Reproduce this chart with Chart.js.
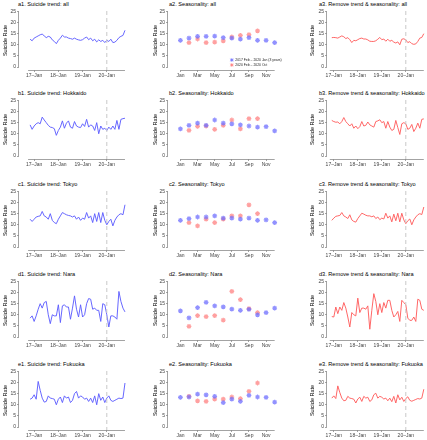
<!DOCTYPE html>
<html>
<head>
<meta charset="utf-8">
<script src="https://cdn.jsdelivr.net/npm/chart.js@4.4.1/dist/chart.umd.min.js"></script>
<style>
  body { margin: 0; background: #fff; }
  #fig { position: relative; width: 427px; height: 440px; font-family: "Liberation Sans", Arial, sans-serif; overflow: hidden; }
  .panel { position: absolute; }
  .ptitle { position: absolute; font-size: 5.6px; line-height: 8px; white-space: nowrap; color: #000; }
</style>
</head>
<body>
<div id="fig"></div>
<script>
// month index: 0 = Jan 2017
const trendStart = -2;   // first point of the trend series (Nov 2016)
const residStart = -1;   // first point of the detrended series (Dec 2016)
const covidBreak = 36;   // dashed line, early 2020

const yearTicks = [0, 12, 24, 36];
const yearLabels = ['17–Jan', '18–Jan', '19–Jan', '20–Jan'];
const monthTicks = [1, 3, 5, 7, 9, 11];
const monthLabels = ['Jan', 'Mar', 'May', 'Jul', 'Sep', 'Nov'];
const rateTicks = [0, 5, 10, 15, 20, 25];

const baseMonths = [1, 2, 3, 4, 5, 6, 7, 8, 9, 10, 11, 12];
const covidMonths = [2, 3, 4, 5, 6, 7, 8, 9, 10];
const baseLabel = '2017 Feb – 2020 Jan (3 years)';
const covidLabel = '2020 Feb – 2020 Oct';

const regions = ['all', 'Hokkaido', 'Tokyo', 'Nara', 'Fukuoka'];
const letters = ['a', 'b', 'c', 'd', 'e'];

// ---- suicide trend (monthly rates) ----
const trendAll = [12.5, 11.8, 13, 13.5, 14, 14.5, 14.8, 14, 13.2, 13.8, 13.5, 12.2, 11.5, 10.5, 12, 13, 14.3, 13.5, 13.5, 13, 12.8, 12.5, 13, 12.5, 12.2, 12, 12.3, 13, 13.5, 12.3, 13, 11.8, 12.5, 11.3, 12.2, 11.5, 12, 11, 12, 11.5, 12.5, 11, 11.2, 12, 13.2, 13.8, 14.2, 16.5];
const trendHokkaido = [14, 12, 13.5, 14.5, 15, 14.5, 17.5, 16.2, 15, 13.8, 13, 12.8, 12.3, 9.3, 11.5, 13, 15.8, 12.5, 14.8, 15.8, 13, 12.5, 15.5, 13.5, 13, 12.8, 14.5, 13.3, 16.5, 13, 14, 13.5, 11.5, 15, 10, 13.5, 12, 12.5, 11.5, 13, 12, 13.5, 12, 16, 12, 16.5, 16.8, 17];
const trendTokyo = [12.5, 11.5, 12.5, 13.5, 13.8, 14, 16, 14, 13.5, 12.5, 15, 12, 11, 10.5, 12.5, 14, 15.5, 15, 14.5, 14.2, 14, 13.5, 14, 12.5, 13.5, 12, 13, 12.5, 15.5, 13, 14, 11, 15, 11.5, 15.5, 11, 15.5, 12, 10, 11.5, 12.5, 9.5, 12, 13.5, 14.5, 15, 14.5, 19];
const trendNara = [8.5, 9.5, 7, 9.5, 12.5, 15, 13, 15.5, 16, 10, 6, 10, 9.5, 9.5, 14.5, 6.5, 14, 14.5, 13.5, 13.5, 8, 13, 18.5, 12.5, 9, 14.5, 9, 10, 15, 17.3, 17, 12.5, 13, 12, 12, 7, 15, 14.5, 10, 4.5, 9.5, 9.5, 9, 8, 20.5, 16, 13, 11.3];
const trendFukuoka = [12.5, 13, 14.5, 12.5, 20.5, 16.5, 13, 11.2, 11.5, 14, 13, 12.8, 12.5, 10, 12.5, 13.5, 11, 14, 13, 13.5, 11, 12, 15, 16, 13, 14, 13.5, 12.5, 13, 11.5, 13, 11, 14, 10, 15, 12, 13.5, 11, 13, 14, 12, 11.5, 12, 12.5, 13, 12.8, 13, 19.8];

// ---- seasonality: 3-year baseline vs 2020 ----
const baseAll = [12, 13, 13.8, 13.8, 13.9, 13.2, 13, 12.5, 13.2, 12, 12, 11];
const covidAll = [11, 12.6, 11, 11.2, 11.8, 13.5, 14.2, 14.6, 16.3];
const baseHokkaido = [12.2, 13.8, 14.8, 13.8, 16.2, 14.8, 14.5, 14, 13.5, 13, 13.2, 11.3];
const covidHokkaido = [11.5, 13.3, 13.5, 12, 13.8, 16.2, 12.2, 16.8, 16.8];
const baseTokyo = [12, 12.8, 13.5, 13.5, 14, 13, 13, 12.5, 13, 12, 12.2, 11];
const covidTokyo = [11, 9.5, 12.5, 11, 12.5, 14, 14, 19, 15];
const baseNara = [11.8, 8.6, 13.2, 15.6, 14, 13.6, 12.5, 12, 12.4, 10, 11, 13];
const covidNara = [4.8, 9.6, 9.2, 9.6, 7.6, 20.5, 16.8, 12.8, 11];
const baseFukuoka = [13.3, 13.5, 14.8, 14.5, 13.8, 11, 12.5, 11.5, 14.2, 13.5, 13.3, 11.2];
const covidFukuoka = [13.8, 11.8, 11.5, 12.5, 12.5, 13.5, 12.8, 16, 19.8];

// ---- trend & seasonality removed ----
const residAll = [13.2, 13.3, 13.2, 13, 13.5, 14, 13.6, 12.8, 13.2, 12.3, 11, 12, 11.8, 12.3, 12.8, 13, 12.6, 12.6, 12.2, 11.6, 11.5, 11.5, 11.8, 12.5, 13.3, 12.3, 12.6, 11.6, 12.5, 11.6, 12, 11.2, 10.8, 11.3, 10, 12.5, 12.7, 12.2, 11, 11.4, 10.5, 10.2, 10.4, 11.5, 13, 13.3, 15];
const residHokkaido = [16, 15.5, 15.2, 15.3, 14.5, 15.5, 17.3, 15.5, 14.5, 13.5, 14.5, 12.5, 13.5, 12.3, 13.2, 15.5, 13.5, 13.8, 15.3, 14, 13.5, 13, 15.5, 15.8, 16.3, 15, 15.5, 12.5, 15.5, 13, 11.5, 12, 16, 12.8, 9.7, 14.5, 15, 14.5, 12, 12.5, 14.2, 11, 12.5, 14.8, 12.5, 16.5, 16.7];
const residTokyo = [12, 13, 13.8, 14, 14.2, 15.5, 14, 13.5, 12.8, 14.5, 12.2, 11.5, 11.2, 12.8, 14, 15.2, 14.8, 14.3, 14, 14, 13.6, 14, 12.8, 13.5, 12.3, 13, 12.6, 15.2, 13, 14, 11.3, 14.8, 11.8, 15.2, 11.3, 15.2, 12.2, 10.5, 11.8, 12.6, 10, 12.2, 13.5, 14.5, 15, 14.6, 18];
const residNara = [9.2, 9, 13.5, 10.5, 13.5, 12, 15.5, 13, 9, 4.5, 11, 10, 9.5, 17.5, 11, 13, 13, 12.5, 14, 3.5, 12, 19.5, 16, 10, 15, 11, 15.5, 13, 16.5, 16.5, 12, 9, 10, 11.5, 7, 16.5, 15.5, 14.5, 8.5, 7.5, 7.5, 9, 7, 17, 16.5, 12.5, 12];
const residFukuoka = [13, 14, 12.8, 18.5, 15.5, 13, 11.8, 12, 13.8, 13, 12.8, 12.5, 10.8, 12.6, 13.4, 11.5, 13.8, 13, 13.4, 11.5, 12.2, 14.5, 15.2, 13, 13.8, 13.4, 12.6, 13, 11.8, 13, 11.4, 13.8, 10.8, 14.5, 12.2, 13.4, 11.5, 12.8, 13.6, 12, 11.6, 12, 12.4, 12.8, 12.6, 13, 17];

const trendSeries = [trendAll, trendHokkaido, trendTokyo, trendNara, trendFukuoka];
const baseSeries = [baseAll, baseHokkaido, baseTokyo, baseNara, baseFukuoka];
const covidSeries = [covidAll, covidHokkaido, covidTokyo, covidNara, covidFukuoka];
const residSeries = [residAll, residHokkaido, residTokyo, residNara, residFukuoka];

const BLUE = 'rgba(95, 95, 255, 0.95)';
const RED = 'rgba(255, 95, 95, 0.95)';
const BLUE_PT = 'rgba(110, 110, 255, 0.75)';
const RED_PT = 'rgba(255, 120, 120, 0.7)';
const AXIS = '#8c8c8c';
const TICKTXT = '#444';
const FONT = '"Liberation Sans", Arial, sans-serif';

// layout of the three columns
const rowTops = [0, 89, 180, 270, 360];
const cols = [
  { left: 0, width: 130, yw: 19, titleX: 18 },
  { left: 150, width: 135, yw: 18, titleX: 169 },
  { left: 307, width: 120, yw: 20, titleX: 319 }
];
const PANEL_H = 84;

// R-style axis lines and the dashed break line
const rAxes = {
  id: 'rAxes',
  afterDraw(chart, args, opts) {
    const ctx = chart.ctx, x = chart.scales.x, y = chart.scales.y, area = chart.chartArea;
    ctx.save();
    ctx.strokeStyle = AXIS;
    ctx.lineWidth = 0.8;
    ctx.beginPath();
    ctx.moveTo(x.getPixelForValue(opts.xFrom), area.bottom + 0.5);
    ctx.lineTo(x.getPixelForValue(opts.xTo), area.bottom + 0.5);
    ctx.moveTo(area.left - 0.5, y.getPixelForValue(0));
    ctx.lineTo(area.left - 0.5, y.getPixelForValue(25));
    ctx.stroke();
    if (opts.breakAt !== undefined) {
      const bx = x.getPixelForValue(opts.breakAt);
      ctx.strokeStyle = '#c8c8c8';
      ctx.lineWidth = 1;
      ctx.setLineDash([4, 3]);
      ctx.beginPath();
      ctx.moveTo(bx, area.top);
      ctx.lineTo(bx, area.bottom);
      ctx.stroke();
    }
    ctx.restore();
  }
};

// small legend inside the a2 plot
const innerLegend = {
  id: 'innerLegend',
  afterDraw(chart, args, opts) {
    if (!opts.show) return;
    const ctx = chart.ctx, area = chart.chartArea;
    ctx.save();
    ctx.font = '3.4px ' + FONT;
    ctx.textBaseline = 'middle';
    chart.data.datasets.forEach((ds, i) => {
      const yy = area.bottom - 10 + i * 5;
      const xx = area.right - 48;
      ctx.strokeStyle = ds.borderColor;
      ctx.lineWidth = 1;
      ctx.beginPath();
      ctx.moveTo(xx - 1.8, yy); ctx.lineTo(xx + 1.8, yy);
      ctx.moveTo(xx, yy - 1.8); ctx.lineTo(xx, yy + 1.8);
      ctx.moveTo(xx - 1.3, yy - 1.3); ctx.lineTo(xx + 1.3, yy + 1.3);
      ctx.moveTo(xx - 1.3, yy + 1.3); ctx.lineTo(xx + 1.3, yy - 1.3);
      ctx.stroke();
      ctx.fillStyle = '#222';
      ctx.fillText(ds.label, xx + 3.5, yy);
    });
    ctx.restore();
  }
};

function makeScales(col, kind) {
  const isSeason = kind === 'season';
  const ticksX = isSeason ? monthTicks : yearTicks;
  const labelsX = isSeason ? monthLabels : yearLabels;
  let xmin, xmax;
  if (kind === 'trend') { xmin = -7.5; xmax = 46.5; }
  else if (kind === 'resid') { xmin = -3.4; xmax = 45.6; }
  else { xmin = -0.45; xmax = 12.6; }
  return {
    x: {
      type: 'linear', min: xmin, max: xmax,
      afterBuildTicks: s => { s.ticks = ticksX.map(v => ({ value: v })); },
      afterFit: s => { s.height = 14; },
      border: { display: false },
      grid: { drawOnChartArea: false, drawTicks: true, tickLength: 2, color: AXIS, lineWidth: 0.8 },
      ticks: {
        padding: 1, maxRotation: 0, autoSkip: false, color: TICKTXT,
        font: { size: 5, family: FONT },
        callback: v => labelsX[ticksX.indexOf(v)]
      }
    },
    y: {
      type: 'linear', min: -1.35, max: 25.2,
      afterBuildTicks: s => { s.ticks = rateTicks.map(v => ({ value: v })); },
      afterFit: s => { s.width = cols[col].yw; },
      border: { display: false },
      grid: { drawOnChartArea: false, drawTicks: true, tickLength: 2, color: AXIS, lineWidth: 0.8 },
      ticks: { padding: 1, color: TICKTXT, font: { size: 5, family: FONT } },
      title: { display: true, text: 'Suicide Rate', color: '#000', font: { size: 5.5, family: FONT }, padding: { top: 2, bottom: 0 } }
    }
  };
}

function lineSet(values, start, color) {
  return {
    data: values.map((v, i) => ({ x: start + i, y: v })),
    borderColor: color, borderWidth: 1, pointRadius: 0, tension: 0, fill: false
  };
}

function pointSet(label, months, values, color) {
  return {
    label: label,
    data: values.map((v, i) => ({ x: months[i], y: v })),
    showLine: false, pointStyle: 'star', pointRadius: 2.4, pointBorderWidth: 1.2,
    borderColor: color, backgroundColor: color
  };
}

const fig = document.getElementById('fig');

function addPanel(row, col, titleText, kind, datasets) {
  const c = cols[col];
  const t = document.createElement('div');
  t.className = 'ptitle';
  t.style.left = c.titleX + 'px';
  t.style.top = rowTops[row] + 'px';
  t.textContent = titleText;
  fig.appendChild(t);

  const canvas = document.createElement('canvas');
  canvas.className = 'panel';
  canvas.width = c.width;
  canvas.height = PANEL_H;
  canvas.style.left = c.left + 'px';
  canvas.style.top = rowTops[row] + 'px';
  fig.appendChild(canvas);

  new Chart(canvas, {
    type: 'line',
    data: { datasets: datasets },
    options: {
      responsive: false,
      animation: false,
      devicePixelRatio: 1,
      layout: { padding: { top: 11, right: 2, left: 0, bottom: 0 } },
      scales: makeScales(col, kind),
      plugins: {
        legend: { display: false },
        tooltip: { enabled: false },
        rAxes: kind === 'season'
          ? { xFrom: 1, xTo: 12 }
          : (kind === 'trend' ? { xFrom: -3, xTo: 45, breakAt: covidBreak } : { xFrom: -2, xTo: 45, breakAt: covidBreak }),
        innerLegend: { show: kind === 'season' && row === 0 }
      }
    },
    plugins: [rAxes, innerLegend]
  });
}

regions.forEach((reg, r) => {
  const L = letters[r];
  addPanel(r, 0, L + '1. Suicide trend: ' + reg, 'trend', [lineSet(trendSeries[r], trendStart, BLUE)]);
  addPanel(r, 1, L + '2. Seasonality: ' + reg, 'season', [
    pointSet(baseLabel, baseMonths, baseSeries[r], BLUE_PT),
    pointSet(covidLabel, covidMonths, covidSeries[r], RED_PT)
  ]);
  addPanel(r, 2, L + '3. Remove trend & seasonality: ' + reg, 'resid', [lineSet(residSeries[r], residStart, RED)]);
});
</script>
</body>
</html>
